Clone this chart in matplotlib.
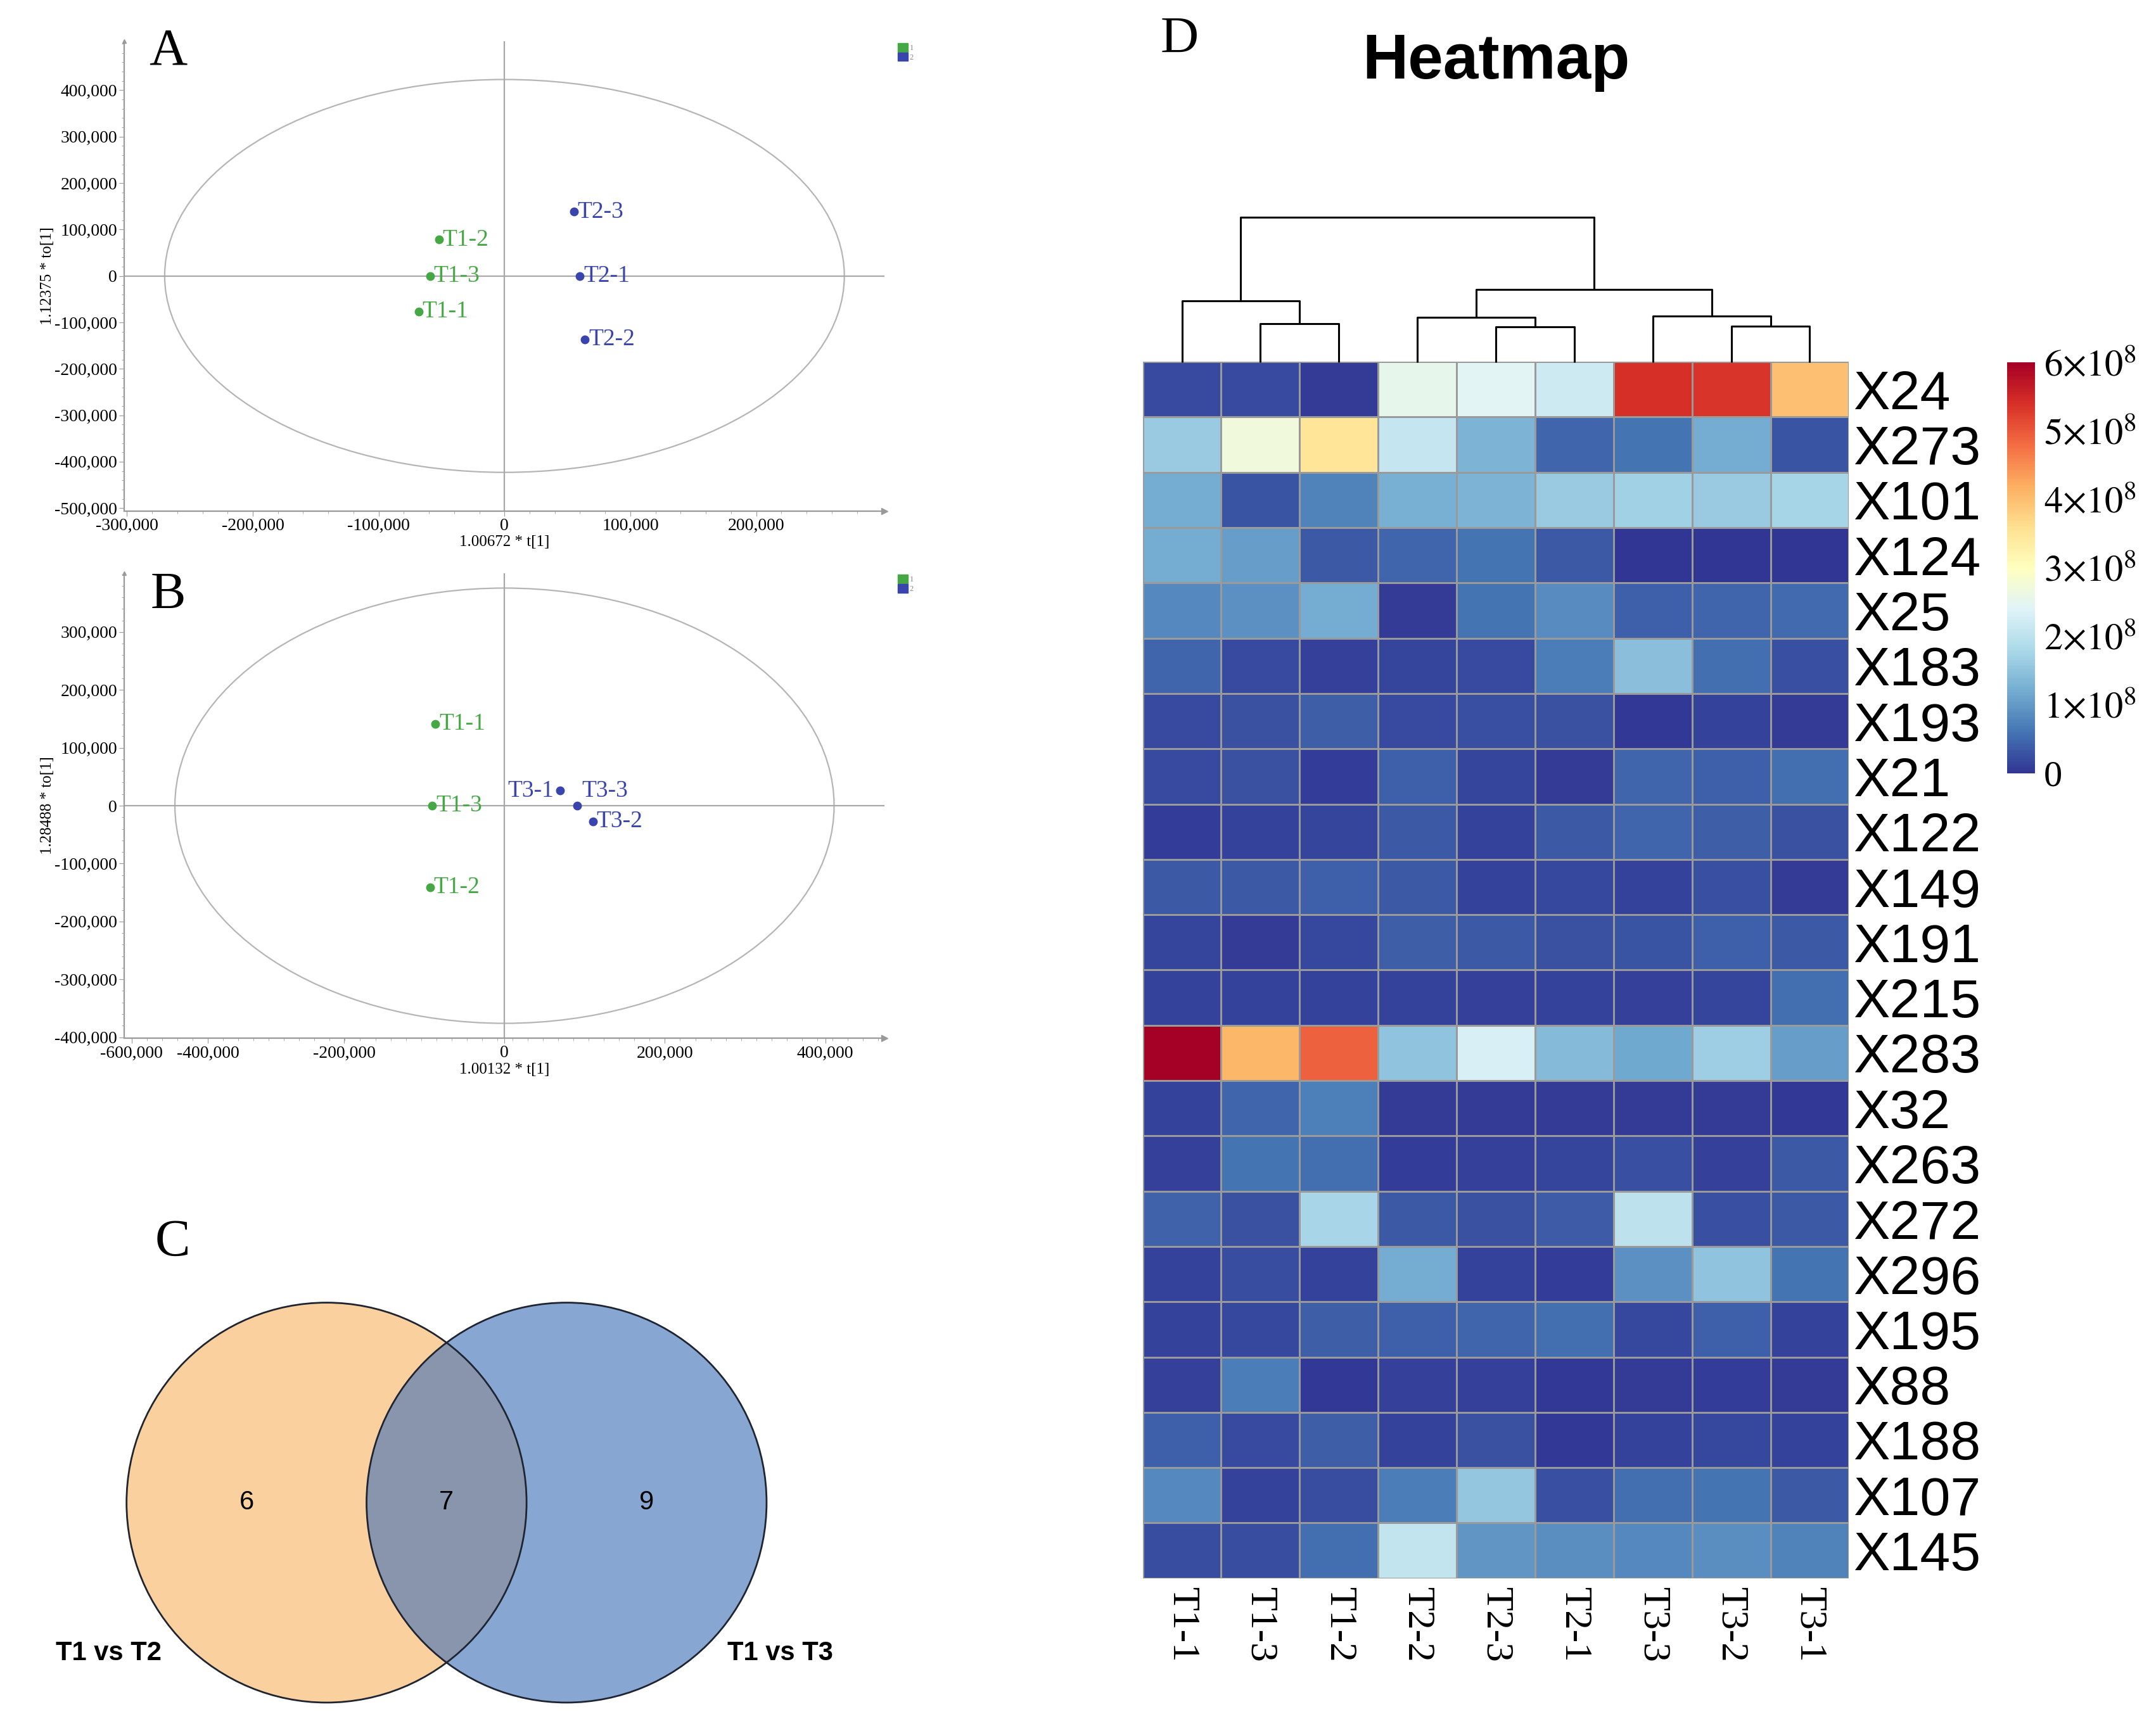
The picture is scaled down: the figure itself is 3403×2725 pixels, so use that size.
import numpy as np
import matplotlib
matplotlib.use('Agg')
import matplotlib.pyplot as plt
from matplotlib.patches import Ellipse, Circle, Patch
from matplotlib.ticker import AutoMinorLocator, FuncFormatter

plt.rcParams['font.family'] = ['Liberation Serif', 'DejaVu Serif']
plt.rcParams['mathtext.fontset'] = 'stix'

# ---- panel A: scores T1 vs T2
a_names = ['T1-2', 'T1-3', 'T1-1', 'T2-3', 'T2-1', 'T2-2']
a_group = [1, 1, 1, 2, 2, 2]
a_t = [-52000, -59000, -68000, 55000, 60000, 64000]
a_to = [78000, 0, -77000, 138000, 0, -137000]
a_ellipse = (270000, 423000)
a_xlabel = '1.00672 * t[1]'
a_ylabel = '1.12375 * to[1]'
a_xticks = [-300000, -200000, -100000, 0, 100000, 200000]
a_yticks = [-500000, -400000, -300000, -200000, -100000, 0, 100000, 200000, 300000, 400000]

# ---- panel B: scores T1 vs T3
b_names = ['T1-1', 'T1-3', 'T1-2', 'T3-1', 'T3-3', 'T3-2']
b_group = [1, 1, 1, 2, 2, 2]
b_t = [-86000, -90000, -93000, 69000, 91000, 110000]
b_to = [141000, 0, -141000, 26000, 0, -27000]
b_ellipse = (411000, 376000)
b_xlabel = '1.00132 * t[1]'
b_ylabel = '1.28488 * to[1]'
b_xticks = [-465000, -370000, -200000, 0, 200000, 400000]
b_xticklabels = ['-600,000', '-400,000', '-200,000', '0', '200,000', '400,000']
b_yticks = [-400000, -300000, -200000, -100000, 0, 100000, 200000, 300000]

# ---- panel C: venn
venn_sets = ['T1 vs T2', 'T1 vs T3']
venn_counts = [6, 7, 9]   # only left, shared, only right

# ---- panel D: heatmap (values in 1e8)
hm_cols = ['T1-1', 'T1-3', 'T1-2', 'T2-2', 'T2-3', 'T2-1', 'T3-3', 'T3-2', 'T3-1']
hm_rows = ['X24', 'X273', 'X101', 'X124', 'X25', 'X183', 'X193', 'X21', 'X122', 'X149', 'X191',
           'X215', 'X283', 'X32', 'X263', 'X272', 'X296', 'X195', 'X88', 'X188', 'X107', 'X145']
hm_vals = [
    [0.20, 0.20, 0.06, 2.55, 2.45, 2.20, 5.40, 5.35, 4.00],
    [1.60, 2.70, 3.50, 2.10, 1.30, 0.45, 0.60, 1.20, 0.30],
    [1.20, 0.30, 0.75, 1.25, 1.30, 1.60, 1.70, 1.60, 1.75],
    [1.20, 1.05, 0.35, 0.45, 0.60, 0.35, 0.02, 0.02, 0.02],
    [0.80, 0.90, 1.20, 0.05, 0.60, 0.85, 0.40, 0.45, 0.50],
    [0.45, 0.20, 0.10, 0.15, 0.20, 0.70, 1.45, 0.55, 0.25],
    [0.20, 0.28, 0.38, 0.20, 0.25, 0.28, 0.03, 0.12, 0.05],
    [0.20, 0.28, 0.08, 0.42, 0.15, 0.05, 0.45, 0.40, 0.55],
    [0.08, 0.13, 0.15, 0.35, 0.12, 0.33, 0.45, 0.38, 0.28],
    [0.33, 0.33, 0.40, 0.35, 0.12, 0.18, 0.12, 0.25, 0.05],
    [0.15, 0.07, 0.18, 0.38, 0.33, 0.28, 0.30, 0.40, 0.33],
    [0.13, 0.12, 0.13, 0.12, 0.10, 0.12, 0.10, 0.15, 0.55],
    [6.00, 4.10, 4.90, 1.50, 2.30, 1.40, 1.15, 1.65, 1.05],
    [0.12, 0.45, 0.72, 0.06, 0.06, 0.07, 0.06, 0.06, 0.04],
    [0.10, 0.60, 0.55, 0.08, 0.10, 0.15, 0.25, 0.10, 0.33],
    [0.43, 0.28, 1.78, 0.33, 0.28, 0.37, 2.00, 0.25, 0.33],
    [0.13, 0.22, 0.13, 1.20, 0.12, 0.08, 0.90, 1.50, 0.60],
    [0.12, 0.17, 0.38, 0.42, 0.45, 0.55, 0.18, 0.42, 0.13],
    [0.10, 0.70, 0.04, 0.10, 0.10, 0.04, 0.05, 0.08, 0.05],
    [0.42, 0.20, 0.38, 0.13, 0.28, 0.04, 0.12, 0.18, 0.13],
    [0.80, 0.13, 0.22, 0.68, 1.55, 0.25, 0.55, 0.60, 0.33],
    [0.23, 0.22, 0.55, 2.05, 0.95, 0.87, 0.82, 0.87, 0.77],
]
# column dendrogram: (left, right, height), leaves 0..8 in display order
col_link = [(4, 5, 87), (7, 8, 88), (1, 2, 95), (3, 9, 110), (6, 10, 113),
            (0, 11, 150), (12, 13, 177), (14, 15, 353)]
cbar_ticks = [0, 1, 2, 3, 4, 5, 6]

GREEN = '#45a845'
BLUE = '#3a44ad'
GRAY = '#9a9a9a'


def score_plot(ax, names, groups, t, to, ell, xlim, ylim, xlabel, ylabel):
    ax.set_xlim(*xlim)
    ax.set_ylim(*ylim)
    ax.add_patch(Ellipse((0, 0), 2 * ell[0], 2 * ell[1], fill=False, ec='#b5b5b5', lw=1.6))
    ax.axhline(0, color='#a8a8a8', lw=1.6)
    ax.axvline(0, color='#a8a8a8', lw=1.6)
    for n, g, x, y in zip(names, groups, t, to):
        c = GREEN if g == 1 else BLUE
        ax.plot(x, y, 'o', color=c, ms=9, zorder=3)
        if n == 'T3-1':
            ax.annotate(n, (x, y), xytext=(-7, 0), textcoords='offset points', ha='right',
                        va='center', color=c, fontsize=27)
        elif n == 'T3-3':
            ax.annotate(n, (x, y), xytext=(5, 17), textcoords='offset points', ha='left',
                        va='center', color=c, fontsize=27)
        else:
            ax.annotate(n, (x, y), xytext=(4, 0), textcoords='offset points', ha='left',
                        va='center', color=c, fontsize=27)
    for s in ['top', 'right']:
        ax.spines[s].set_visible(False)
    for s in ['left', 'bottom']:
        ax.spines[s].set_color(GRAY)
        ax.spines[s].set_linewidth(1.6)
    ax.xaxis.set_minor_locator(AutoMinorLocator(5))
    ax.yaxis.set_minor_locator(AutoMinorLocator(5))
    ax.tick_params(which='major', length=6, color=GRAY, labelsize=20, pad=2)
    ax.tick_params(which='minor', length=3, color=GRAY)
    ax.yaxis.set_major_formatter(FuncFormatter(lambda v, p: f'{v:,.0f}'))
    ax.set_xlabel(xlabel, fontsize=18, labelpad=2)
    ax.set_ylabel(ylabel, fontsize=18, labelpad=0)
    ax.plot(1, 0, '>', color=GRAY, ms=7, transform=ax.transAxes, clip_on=False)
    ax.plot(0, 1, '^', color=GRAY, ms=5, transform=ax.transAxes, clip_on=False)
    leg = ax.legend(handles=[Patch(color=GREEN), Patch(color=BLUE)], labels=['1', '2'],
                    loc='upper left', bbox_to_anchor=(1.012, 1.005), frameon=False, fontsize=9,
                    handlelength=1.3, handleheight=1.3, handletextpad=0.2, labelspacing=0.05,
                    borderpad=0)
    for txt in leg.get_texts():
        txt.set_color('#888888')


fig = plt.figure(figsize=(34.03, 27.25), dpi=100)

# A
axA = fig.add_axes([0.0577, 0.704, 0.3526, 0.272])
score_plot(axA, a_names, a_group, a_t, a_to, a_ellipse, (-302000, 302000), (-506000, 505000),
           a_xlabel, a_ylabel)
axA.set_xticks(a_xticks)
axA.xaxis.set_major_formatter(FuncFormatter(lambda v, p: f'{v:,.0f}'))
axA.set_yticks(a_yticks)
fig.text(0.078, 0.970, 'A', fontsize=60, ha='center', va='center')

# B
axB = fig.add_axes([0.0577, 0.3984, 0.3526, 0.2696])
score_plot(axB, b_names, b_group, b_t, b_to, b_ellipse, (-474000, 474000), (-402000, 402000),
           b_xlabel, b_ylabel)
axB.set_xticks(b_xticks)
axB.set_xticklabels(b_xticklabels)
axB.set_yticks(b_yticks)
fig.text(0.078, 0.655, 'B', fontsize=60, ha='center', va='center')

# C venn
axC = fig.add_axes([0.0, 0.0, 0.42, 0.31])
axC.set_xlim(0, 655)
axC.set_ylim(1250, 862)
axC.set_aspect('equal')
axC.axis('off')
left = Circle((236, 1088), 145, fc='#fbd09f', ec='none')
right = Circle((410, 1088), 145, fc='#87a7d2', ec='none')
axC.add_patch(left)
axC.add_patch(right)
over = Circle((236, 1088), 145, fc='#8995ad', ec='none')
axC.add_patch(over)
over.set_clip_path(right)
axC.add_patch(Circle((236, 1088), 145, fill=False, ec='#1e2430', lw=2))
axC.add_patch(Circle((410, 1088), 145, fill=False, ec='#1e2430', lw=2))
for x, n in zip([178, 323, 468], venn_counts):
    axC.text(x, 1088, str(n), fontsize=30, ha='center', va='center', family='Liberation Sans')
axC.text(78, 1197, venn_sets[0], fontsize=30, ha='center', va='center', weight='bold',
         family='Liberation Sans')
axC.text(565, 1197, venn_sets[1], fontsize=30, ha='center', va='center', weight='bold',
         family='Liberation Sans')
fig.text(0.080, 0.280, 'C', fontsize=60, ha='center', va='center')

# D heatmap
vals = np.array(hm_vals) * 1e8
axH = fig.add_axes([0.530, 0.0856, 0.3276, 0.7048])
mesh = axH.pcolormesh(vals, cmap='RdYlBu_r', vmin=0, vmax=6e8, edgecolors='#9a9a9a', linewidth=2)
axH.set_xlim(0, len(hm_cols))
axH.set_ylim(len(hm_rows), 0)
for s in axH.spines.values():
    s.set_visible(False)
axH.yaxis.tick_right()
axH.set_yticks(np.arange(len(hm_rows)) + 0.5)
axH.set_yticklabels(hm_rows, fontsize=62, family='Liberation Sans')
axH.set_xticks(np.arange(len(hm_cols)) + 0.5)
axH.set_xticklabels(hm_cols, fontsize=44, rotation=270, va='top')
axH.tick_params(axis='y', length=0, pad=5)
axH.tick_params(axis='x', length=0, pad=10)

axD = fig.add_axes([0.530, 0.790, 0.3276, 0.084])
axD.set_xlim(0, len(hm_cols))
axD.set_ylim(0, 353)
axD.axis('off')
xs = {i: i + 0.5 for i in range(len(hm_cols))}
hs = {i: 0 for i in range(len(hm_cols))}
n = len(hm_cols)
for k, (a, b, h) in enumerate(col_link):
    axD.plot([xs[a], xs[a], xs[b], xs[b]], [hs[a], h, h, hs[b]], color='k', lw=2.2,
             clip_on=False, solid_capstyle='butt')
    xs[n + k] = (xs[a] + xs[b]) / 2
    hs[n + k] = h

cax = fig.add_axes([0.931, 0.552, 0.0128, 0.238])
cb = fig.colorbar(mesh, cax=cax, ticks=[v * 1e8 for v in cbar_ticks])
cb.outline.set_visible(False)
cb.ax.tick_params(length=0, labelsize=42, pad=10)
cb.ax.set_yticklabels(['0'] + [rf'${v}{{\times}}10^8$' for v in cbar_ticks[1:]])

fig.text(0.694, 0.964, 'Heatmap', fontsize=72, weight='bold', ha='center', va='center',
         family='Liberation Sans')
fig.text(0.547, 0.977, 'D', fontsize=60, ha='center', va='center')

fig.savefig('out.png', dpi=100)
